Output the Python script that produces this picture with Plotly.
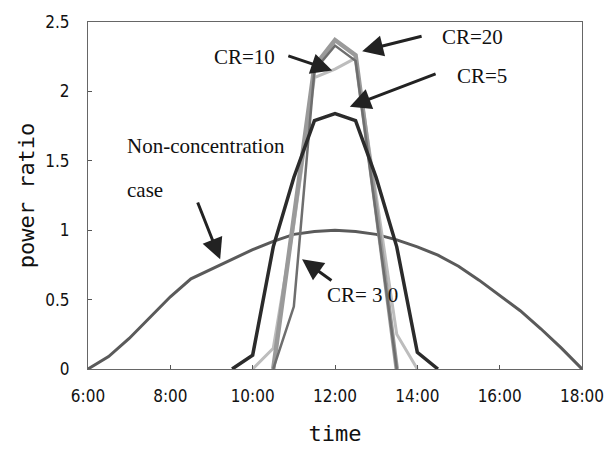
import plotly.graph_objects as go

# ---- data (hours of day, power ratio) ----
t_nc = [6, 6.5, 7, 7.5, 8, 8.5, 9, 9.5, 10, 10.5, 11, 11.5, 12, 12.5, 13, 13.5, 14, 14.5, 15, 15.5, 16, 16.5, 17, 17.5, 18]
v_nc = [0, 0.09, 0.22, 0.37, 0.52, 0.65, 0.72, 0.79, 0.86, 0.92, 0.97, 0.99, 1.0, 0.99, 0.97, 0.93, 0.88, 0.82, 0.74, 0.64, 0.53, 0.42, 0.29, 0.15, 0.0]

t_cr5 = [9.5, 10, 10.5, 11, 11.5, 12, 12.5, 13, 13.5, 14, 14.5]
v_cr5 = [0, 0.1, 0.88, 1.38, 1.79, 1.84, 1.79, 1.38, 0.88, 0.12, 0]

t_cr10 = [10, 10.5, 11, 11.5, 12, 12.5, 13, 13.5, 14]
v_cr10 = [0, 0.15, 1.04, 2.1, 2.16, 2.24, 1.25, 0.25, 0]

t_cr20 = [10.5, 11, 11.5, 12, 12.5, 13, 13.5]
v_cr20 = [0, 1.1, 2.18, 2.37, 2.26, 1.15, 0]

t_cr30 = [10.5, 11, 11.5, 12, 12.5, 13, 13.5]
v_cr30 = [0, 0.45, 2.15, 2.33, 2.22, 1.1, 0]

x_tickvals = [6, 8, 10, 12, 14, 16, 18]
x_ticktext = ["6:00", "8:00", "10:00", "12:00", "14:00", "16:00", "18:00"]
y_tickvals = [0, 0.5, 1, 1.5, 2, 2.5]
y_ticktext = ["0", "0.5", "1", "1.5", "2", "2.5"]

fig = go.Figure()
fig.add_trace(go.Scatter(x=t_nc, y=v_nc, mode="lines", line=dict(color="#5a5a5a", width=3), name="Non-concentration"))
fig.add_trace(go.Scatter(x=t_cr10, y=v_cr10, mode="lines", line=dict(color="#bdbdbd", width=3), name="CR=10"))
fig.add_trace(go.Scatter(x=t_cr20, y=v_cr20, mode="lines", line=dict(color="#9a9a9a", width=4.5), name="CR=20"))
fig.add_trace(go.Scatter(x=t_cr30, y=v_cr30, mode="lines", line=dict(color="#6e6e6e", width=2.5), name="CR=30"))
fig.add_trace(go.Scatter(x=t_cr5, y=v_cr5, mode="lines", line=dict(color="#2b2b2b", width=3.5), name="CR=5"))

serif = dict(family="Liberation Serif, Times New Roman, serif", size=21, color="#111")
arrow = dict(showarrow=True, arrowhead=2, arrowsize=1.4, arrowwidth=3, arrowcolor="#222",
             axref="x", ayref="y", xref="x", yref="y")

# arrows: (tip_x, tip_y, tail_x, tail_y)
arrows = [
    (9.21, 0.79, 8.65, 1.21),
    (11.93, 2.15, 10.83, 2.26),
    (12.66, 2.29, 14.14, 2.40),
    (12.36, 1.89, 14.48, 2.13),
    (11.20, 0.79, 11.95, 0.63),
]
for tx, ty, ax, ay in arrows:
    fig.add_annotation(x=tx, y=ty, ax=ax, ay=ay, text="", **arrow)

labels = [
    ("Non-concentration", 6.9, 1.61, "left"),
    ("case", 6.9, 1.29, "left"),
    ("CR=10", 10.59, 2.25, "right"),
    ("CR=20", 14.55, 2.39, "left"),
    ("CR=5", 14.91, 2.11, "left"),
    ("CR= 3 0", 11.76, 0.53, "left"),
]
for txt, x, y, anc in labels:
    fig.add_annotation(x=x, y=y, text=txt, showarrow=False, xanchor=anc, yanchor="middle",
                       font=serif, xref="x", yref="y")

tickfont = dict(family="Liberation Sans Narrow, Arial Narrow, DejaVu Sans Condensed, sans-serif", size=17, color="#111")
titlefont = dict(family="DejaVu Sans Mono, monospace", size=22, color="#111")

fig.update_xaxes(range=[6, 18], tickvals=x_tickvals, ticktext=x_ticktext, ticks="inside", ticklen=4,
                 tickcolor="#555", showline=True, linecolor="#666", linewidth=1, mirror=True,
                 showgrid=False, zeroline=False, tickfont=tickfont, ticklabelstandoff=12,
                 title=dict(text="time", font=titlefont, standoff=20))
fig.update_yaxes(range=[0, 2.5], tickvals=y_tickvals, ticktext=y_ticktext, ticks="inside", ticklen=4,
                 tickcolor="#555", showline=True, linecolor="#666", linewidth=1, mirror=True,
                 showgrid=False, zeroline=False, tickfont=tickfont, ticklabelstandoff=14,
                 title=dict(text="power ratio", font=titlefont, standoff=4))

fig.update_layout(width=616, height=456, margin=dict(l=88, r=34, t=13, b=87),
                  paper_bgcolor="white", plot_bgcolor="white", showlegend=False)

fig.write_html("out.html")
